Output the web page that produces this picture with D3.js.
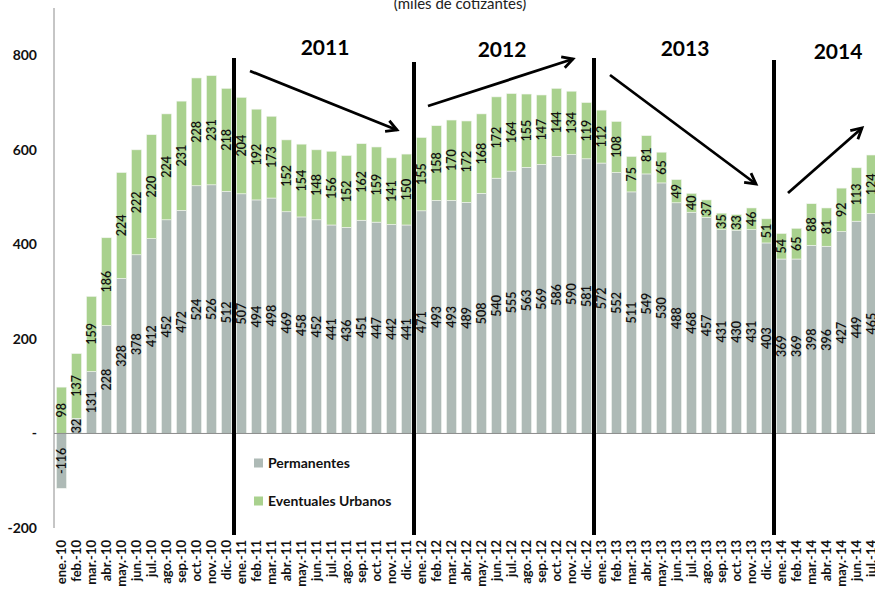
<!DOCTYPE html>
<html><head><meta charset="utf-8">
<script src="https://cdn.jsdelivr.net/npm/d3@7"></script>
<style>body{margin:0;background:#fff;} svg{display:block;font-family:Lato,"Liberation Sans",sans-serif;}</style>
</head><body>
<svg id="c" width="875" height="590"></svg>
<script>
const months = ["ene.-10","feb.-10","mar.-10","abr.-10","may.-10","jun.-10","jul.-10","ago.-10","sep.-10","oct.-10","nov.-10","dic.-10",
"ene.-11","feb.-11","mar.-11","abr.-11","may.-11","jun.-11","jul.-11","ago.-11","sep.-11","oct.-11","nov.-11","dic.-11",
"ene.-12","feb.-12","mar.-12","abr.-12","may.-12","jun.-12","jul.-12","ago.-12","sep.-12","oct.-12","nov.-12","dic.-12",
"ene.-13","feb.-13","mar.-13","abr.-13","may.-13","jun.-13","jul.-13","ago.-13","sep.-13","oct.-13","nov.-13","dic.-13",
"ene.-14","feb.-14","mar.-14","abr.-14","may.-14","jun.-14","jul.-14"];
const permanentes = [-116,32,131,228,328,378,412,452,472,524,526,512,
507,494,498,469,458,452,441,436,451,447,442,441,
471,493,493,489,508,540,555,563,569,586,590,581,
572,552,511,549,530,488,468,457,431,430,431,403,
369,369,398,396,427,449,465];
const eventuales = [98,137,159,186,224,222,220,224,231,228,231,218,
204,192,173,152,154,148,156,152,162,159,141,150,
155,158,170,172,168,172,164,155,147,144,134,119,
112,108,75,81,65,49,40,37,35,33,46,51,
54,65,88,81,92,113,124];
const seriesNames = ["Permanentes","Eventuales Urbanos"];
const yTicks = [-200,0,200,400,600,800];
const yTickLabels = ["-200","-","200","400","600","800"];
const years = ["2011","2012","2013","2014"];
const yearBreaks = ["ene.-11","ene.-12","ene.-13","ene.-14"];
const title = "(miles de cotizantes)";

const colors = {"Permanentes":"#aebab6","Eventuales Urbanos":"#a9d18e"};
const svg = d3.select("#c");
const x = d3.scaleBand().domain(months).range([54, 54+months.length*15]).paddingInner(0.33).paddingOuter(0.165);
const y = d3.scaleLinear().domain([-200, 900]).range([528, 8]);

const rows = months.map((m,i)=>({m, "Permanentes":permanentes[i], "Eventuales Urbanos":eventuales[i]}));
const stack = d3.stack().keys(seriesNames).offset(d3.stackOffsetDiverging)(rows);

// title
svg.append("text").attr("x",460).attr("y",9).attr("text-anchor","middle").attr("font-size",15).attr("fill","#222").text(title);

// bars
stack.forEach(s=>{
  const g = svg.append("g");
  g.selectAll("rect").data(s).join("rect")
    .attr("x",d=>x(d.data.m)).attr("width",x.bandwidth())
    .attr("y",d=>y(Math.max(d[0],d[1]))).attr("height",d=>Math.abs(y(d[0])-y(d[1])))
    .attr("fill",colors[s.key]).attr("stroke","#f2f5f0").attr("stroke-width",0.6);
  g.selectAll("text").data(s).join("text")
    .attr("transform",d=>`translate(${x(d.data.m)+x.bandwidth()/2+4.5},${y((d[0]+d[1])/2)}) rotate(-90)`)
    .attr("text-anchor","middle").attr("font-size",12.5).attr("font-weight",600).attr("fill","#111")
    .text(d=>d.data[s.key]);
});

// axes
svg.append("line").attr("x1",54).attr("x2",54).attr("y1",8).attr("y2",528).attr("stroke","#8c8c8c").attr("stroke-width",1);
svg.append("line").attr("x1",54).attr("x2",875).attr("y1",y(0)).attr("y2",y(0)).attr("stroke","#8c8c8c").attr("stroke-width",1);
svg.append("g").selectAll("text").data(yTicks).join("text")
  .attr("x",37).attr("y",d=>y(d)+5).attr("text-anchor","end").attr("font-size",14).attr("font-weight",700).attr("fill","#111")
  .text((d,i)=>yTickLabels[i]);
svg.append("g").selectAll("text").data(months).join("text")
  .attr("transform",d=>`translate(${x(d)+x.bandwidth()/2+4.5},540) rotate(-90)`)
  .attr("text-anchor","end").attr("font-size",13).attr("font-weight",700).attr("fill","#111").text(d=>d);

// year lines
yearBreaks.forEach((m,i)=>{
  const xx = x(m) - x.step()*x.paddingInner()/2;
  svg.append("line").attr("x1",xx).attr("x2",xx).attr("y1",[58,62,58,60][i]).attr("y2",535).attr("stroke","#000").attr("stroke-width",4);
});
const yearPos = [[325,55],[502,57],[685,56],[838,59]];
years.forEach((t,i)=>{
  svg.append("text").attr("x",yearPos[i][0]).attr("y",yearPos[i][1]).attr("text-anchor","middle").attr("font-size",21).attr("font-weight",700).attr("fill","#000").text(t);
});

// arrows
const arrows = [[250,71,397,130],[428,106,573,59],[610,75,756,184],[788,193,862,128]];
arrows.forEach(a=>{
  const [x1,y1,x2,y2]=a;
  svg.append("line").attr("x1",x1).attr("y1",y1).attr("x2",x2).attr("y2",y2).attr("stroke","#000").attr("stroke-width",2.8);
  const ang = Math.atan2(y2-y1,x2-x1), L=12, w=0.5;
  const p1=[x2-L*Math.cos(ang-w), y2-L*Math.sin(ang-w)];
  const p2=[x2-L*Math.cos(ang+w), y2-L*Math.sin(ang+w)];
  svg.append("path").attr("d",`M${p1}L${x2},${y2}L${p2}`).attr("fill","none").attr("stroke","#000").attr("stroke-width",2.8).attr("stroke-linejoin","miter");
});

// legend
const leg = svg.append("g");
seriesNames.forEach((n,i)=>{
  const yy = [463,501][i];
  leg.append("rect").attr("x",254).attr("y",yy-4.5).attr("width",9).attr("height",9).attr("fill",colors[n]);
  leg.append("text").attr("x",268).attr("y",yy+5).attr("font-size",14).attr("font-weight",700).attr("fill","#111").text(n);
});
</script>
</body></html>
